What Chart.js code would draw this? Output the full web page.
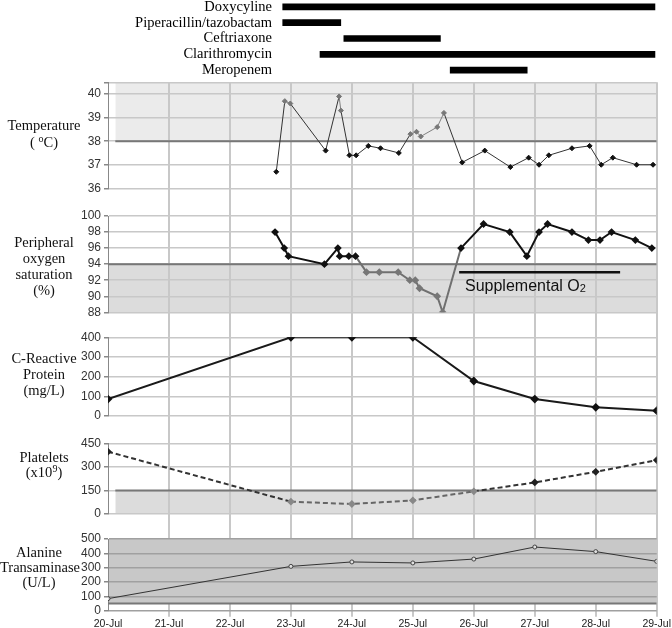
<!DOCTYPE html>
<html>
<head>
<meta charset="utf-8">
<script src="https://cdn.jsdelivr.net/npm/chart.js@4.4.0/dist/chart.umd.min.js"></script>
<style>
  html, body { margin: 0; padding: 0; background: #fff; }
  #wrap { position: relative; width: 672px; height: 628px; overflow: hidden; }
  canvas { position: absolute; left: 0; }
  .ttl { position: absolute; left: 0; width: 88px; text-align: center; font-family: "Liberation Serif", "Times New Roman", serif; font-size: 14.5px; line-height: 16px; color: #111; }
  .ttl sup { font-size: 10px; line-height: 0; vertical-align: 5px; }
  #suppl { position: absolute; left: 465px; top: 277px; font-family: "Liberation Sans", Arial, sans-serif; font-size: 16px; color: #111; white-space: nowrap; }
  #suppl sub { font-size: 11px; vertical-align: -1px; }
</style>
</head>
<body>
<div id="wrap">
  <canvas id="mainChart" width="672" height="628" style="top:0;width:672px;height:628px"></canvas>
  <canvas id="drugChart" width="672" height="79" style="top:-1px;width:672px;height:79px"></canvas>
  <div class="ttl" style="top:117px;line-height:17px">Temperature<br>( <sup>o</sup>C)</div>
  <div class="ttl" style="top:234px">Peripheral<br>oxygen<br>saturation<br>(%)</div>
  <div class="ttl" style="top:350px">C-Reactive<br>Protein<br>(mg/L)</div>
  <div class="ttl" style="top:450px;line-height:15px">Platelets<br>(x10<sup>9</sup>)</div>
  <div class="ttl" style="top:545px;line-height:15px;width:78px">Alanine<br>Transaminase<br>(U/L)</div>
  <div id="suppl">Supplemental O<sub>2</sub></div>
</div>
<script>
// x axis: days counted from 20-Jul
const dayLabels = ['20-Jul', '21-Jul', '22-Jul', '23-Jul', '24-Jul', '25-Jul', '26-Jul', '27-Jul', '28-Jul', '29-Jul'];

// antibiotic courses (start / end in days)
const drugNames = ['Doxycyline', 'Piperacillin/tazobactam', 'Ceftriaxone', 'Clarithromycin', 'Meropenem'];
const drugStart = [2.86, 2.86, 3.86, 3.47, 5.6];
const drugEnd = [8.95, 3.81, 5.44, 8.95, 6.86];

// temperature readings
const tempDay = [2.76, 2.9, 2.99, 3.57, 3.79, 3.82, 3.96, 4.07, 4.27, 4.47, 4.77, 4.96, 5.06, 5.13, 5.4, 5.51, 5.81, 6.18, 6.6, 6.9, 7.07, 7.23, 7.61, 7.9, 8.09, 8.28, 8.67, 8.94];
const tempVal = [36.7, 39.7, 39.6, 37.6, 39.9, 39.3, 37.4, 37.4, 37.8, 37.7, 37.5, 38.3, 38.4, 38.2, 38.6, 39.2, 37.1, 37.6, 36.9, 37.3, 37.0, 37.4, 37.7, 37.8, 37.0, 37.3, 37.0, 37.0];

// oxygen saturation readings
const o2Day = [2.74, 2.89, 2.96, 3.55, 3.77, 3.8, 3.95, 4.06, 4.24, 4.45, 4.76, 4.95, 5.04, 5.11, 5.4, 5.49, 5.79, 6.16, 6.59, 6.87, 7.07, 7.21, 7.61, 7.88, 8.07, 8.26, 8.65, 8.92];
const o2Val = [98, 96, 95, 94, 96, 95, 95, 95, 93, 93, 93, 92, 92, 91, 90, 88, 96, 99, 98, 95, 98, 99, 98, 97, 97, 98, 97, 96];
const supplO2Day = [5.76, 8.4];
const supplO2Level = 93;

// daily labs
const labDay = [0, 3, 4, 5, 6, 7, 8, 9];
const crpVal = [86, 400, 400, 400, 178, 86, 44, 27];
const pltVal = [399, 79, 64, 87, 145, 202, 270, 345];
const altVal = [84, 309, 340, 333, 360, 444, 412, 344];

// reference limits
const tempLimit = 38;
const o2Limit = 94;
const pltLimit = 150;
const altLimit = 50;

const tempTicks = [36, 37, 38, 39, 40, 40.5];

const sans = '"Liberation Sans", Arial, sans-serif';
const gridCol = '#c8c8c8';

function pts(xs, ys) {
    return xs.map((x, i) => ({ x: x, y: ys[i] }));
}

// limit line with shaded band to one edge of the panel
function band(axis, from, to, level, edge, fillCol) {
    return {
        yAxisID: axis,
        data: [{ x: from, y: level }, { x: to, y: level }],
        borderColor: '#777',
        borderWidth: 2,
        pointRadius: 0,
        fill: { value: edge },
        backgroundColor: fillCol,
        order: 5
    };
}

function yAxis(weight, stackWeight, min, max, step) {
    return {
        type: 'linear', position: 'left', stack: 'panels', stackWeight: stackWeight, weight: weight,
        min: min, max: max,
        ticks: { stepSize: step, autoSkip: false, color: '#333', font: { family: sans, size: 12 }, padding: 3 },
        grid: { color: gridCol, lineWidth: 1.5, tickLength: 4, tickColor: '#888' },
        border: { color: '#888', width: 1 },
        afterFit: s => { s.width = 108; }
    };
}

function spacer(weight, stackWeight) {
    return {
        type: 'linear', position: 'left', stack: 'panels', stackWeight: stackWeight, weight: weight,
        min: 0, max: 1,
        ticks: { display: false },
        grid: { display: false, drawTicks: false },
        border: { display: false },
        afterFit: s => { s.width = 108; }
    };
}

const scaleT = yAxis(9, 106, 36, 40.5, 1);
scaleT.afterBuildTicks = s => { s.ticks = tempTicks.map(v => ({ value: v })); };
scaleT.ticks.callback = v => (v === 40.5 ? '' : v);

const scaleA = yAxis(1, 71.7, 0, 500, 100);
scaleA.grid.color = '#a0a0a0';

new Chart(document.getElementById('mainChart'), {
    type: 'line',
    data: {
        datasets: [
            {
                yAxisID: 'yT',
                data: pts(tempDay, tempVal),
                borderWidth: 1,
                borderColor: '#333',
                segment: { borderColor: c => (c.p0.parsed.y > tempLimit && c.p1.parsed.y > tempLimit ? '#808080' : '#333') },
                pointStyle: 'rectRot',
                pointRadius: 2.5,
                pointBackgroundColor: c => (c.raw.y > tempLimit ? '#777' : '#111'),
                pointBorderColor: c => (c.raw.y > tempLimit ? '#777' : '#111')
            },
            {
                yAxisID: 'yO',
                data: pts(o2Day, o2Val),
                borderWidth: 2,
                borderColor: '#111',
                segment: { borderColor: c => (Math.min(c.p0.parsed.y, c.p1.parsed.y) < o2Limit ? '#707070' : '#111') },
                pointStyle: 'rectRot',
                pointRadius: 2.5,
                pointBackgroundColor: c => (c.raw.y < o2Limit ? '#777' : '#111'),
                pointBorderColor: c => (c.raw.y < o2Limit ? '#777' : '#111')
            },
            {
                yAxisID: 'yO',
                data: pts(supplO2Day, [supplO2Level, supplO2Level]),
                borderWidth: 2.5,
                borderColor: '#111',
                pointRadius: 0
            },
            {
                yAxisID: 'yC',
                data: pts(labDay, crpVal),
                borderWidth: 2,
                borderColor: '#1a1a1a',
                pointStyle: 'rectRot',
                pointRadius: 3,
                pointBackgroundColor: '#111',
                pointBorderColor: '#111'
            },
            {
                yAxisID: 'yP',
                data: pts(labDay, pltVal),
                borderWidth: 2,
                borderColor: '#333',
                borderDash: [5, 3],
                segment: { borderColor: c => (Math.max(c.p0.parsed.y, c.p1.parsed.y) <= pltLimit ? '#666' : '#333') },
                pointStyle: 'rectRot',
                pointRadius: 2.5,
                pointBackgroundColor: c => (c.raw.y < pltLimit ? '#888' : '#222'),
                pointBorderColor: c => (c.raw.y < pltLimit ? '#888' : '#222')
            },
            {
                yAxisID: 'yA',
                data: pts(labDay, altVal),
                borderWidth: 1,
                borderColor: '#333',
                pointRadius: 2,
                pointBackgroundColor: '#e0e0e0',
                pointBorderColor: '#444'
            },
            band('yT', 0.12, 9, tempLimit, 40.5, '#ebebeb'),
            band('yO', 0, 9, o2Limit, 88, '#dcdcdc'),
            band('yP', 0.12, 9, pltLimit, 0, '#dcdcdc'),
            band('yA', 0, 9, altLimit, 500, '#c8c8c8')
        ]
    },
    options: {
        responsive: false,
        animation: false,
        devicePixelRatio: 1,
        layout: { padding: { top: 82.3, right: 14, bottom: 0, left: 0 } },
        plugins: {
            legend: { display: false },
            tooltip: { enabled: false },
            filler: { drawTime: 'beforeDraw' }
        },
        scales: {
            x: {
                type: 'linear', min: 0, max: 9,
                ticks: {
                    stepSize: 1, autoSkip: false, maxRotation: 0, padding: 1,
                    color: '#222', font: { family: sans, size: 10.5 },
                    callback: v => dayLabels[v]
                },
                grid: { color: c => (c.tick && c.tick.value === 0 ? 'rgba(0,0,0,0)' : gridCol), lineWidth: 2, tickLength: 6 },
                border: { display: false },
                afterFit: s => { s.height = 17.3; }
            },
            yT: scaleT,
            g1: spacer(8, 27.7),
            yO: yAxis(7, 96.3, 88, 100, 2),
            g2: spacer(6, 25),
            yC: yAxis(5, 78.7, 0, 400, 100),
            g3: spacer(4, 27.7),
            yP: yAxis(3, 70.3, 0, 450, 150),
            g4: spacer(2, 25),
            yA: scaleA
        }
    }
});

// antibiotic timeline above the panels, same day scale
new Chart(document.getElementById('drugChart'), {
    type: 'bar',
    data: {
        labels: drugNames,
        datasets: [{
            data: drugStart.map((s, i) => [s, drugEnd[i]]),
            backgroundColor: '#000',
            barThickness: 6,
            borderSkipped: false
        }]
    },
    options: {
        indexAxis: 'y',
        responsive: false,
        animation: false,
        devicePixelRatio: 1,
        layout: { padding: { top: 0, right: 14, bottom: 0, left: 0 } },
        plugins: { legend: { display: false }, tooltip: { enabled: false } },
        scales: {
            x: { type: 'linear', min: 2.75, max: 9, display: false },
            y: {
                ticks: { autoSkip: false, color: '#000', font: { family: '"Liberation Serif", "Times New Roman", serif', size: 14.5 }, padding: 4 },
                grid: { display: false, drawTicks: false },
                border: { display: false },
                afterFit: s => { s.width = 276; s.paddingTop = 0; s.paddingBottom = 0; }
            }
        }
    }
});
</script>
</body>
</html>
